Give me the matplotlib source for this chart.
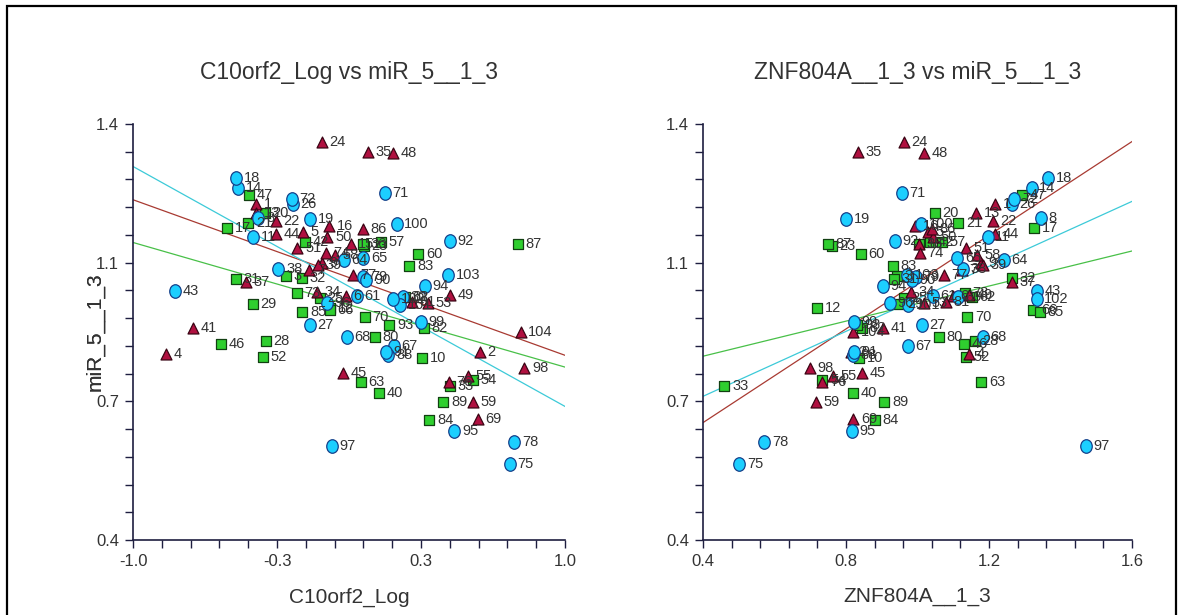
import matplotlib
matplotlib.use('Agg')
import matplotlib.pyplot as plt
import numpy as np
from matplotlib.markers import MarkerStyle
from matplotlib.transforms import Affine2D
from matplotlib.patches import Rectangle

plt.rcParams['font.family'] = ['Liberation Sans', 'DejaVu Sans']

# ---------------- data ----------------
labels = [1, 2, 3, 4, 5, 6, 7, 8, 9, 10, 11, 12, 13, 14, 15, 16, 17, 18, 19, 20,
          21, 22, 23, 24, 25, 26, 27, 28, 29, 30, 31, 32, 33, 34, 35, 36, 37, 38, 39, 40,
          41, 42, 43, 44, 45, 46, 47, 48, 49, 50, 51, 52, 53, 54, 55, 57, 58, 59, 60,
          61, 62, 63, 64, 65, 66, 67, 68, 69, 70, 71, 72, 73, 74, 75, 76, 77, 78, 79, 80,
          81, 82, 83, 84, 85, 86, 87, 88, 89, 90, 91, 92, 93, 94, 95, 96, 97, 98, 99, 100,
          101, 102, 103, 104]
groups = ['T', 'T', 'S', 'T', 'T', 'T', 'T', 'C', 'T', 'S', 'C', 'S', 'T', 'C', 'T', 'T', 'S', 'C', 'C', 'S',
          'S', 'T', 'S', 'T', 'S', 'C', 'C', 'S', 'S', 'C', 'S', 'S', 'S', 'T', 'T', 'S', 'T', 'C', 'T', 'S',
          'T', 'S', 'C', 'T', 'T', 'S', 'S', 'T', 'T', 'T', 'T', 'S', 'T', 'S', 'T', 'S', 'T', 'T', 'S',
          'C', 'S', 'S', 'C', 'C', 'S', 'C', 'C', 'T', 'S', 'C', 'C', 'S', 'T', 'C', 'T', 'T', 'C', 'C', 'S',
          'T', 'S', 'S', 'S', 'S', 'T', 'S', 'C', 'S', 'C', 'C', 'C', 'S', 'C', 'C', 'C', 'C', 'T', 'C', 'C',
          'C', 'C', 'C', 'T']
c10orf2_log = [-0.431, 0.606, -0.292, -0.849, -0.212, -0.014, -0.184, -0.420, -0.126, 0.339,
               -0.443, -0.088, -0.431, -0.512, 0.008, -0.091, -0.566, -0.523, -0.181, -0.389,
               -0.466, -0.338, 0.069, -0.126, -0.134, -0.259, -0.181, -0.386, -0.446, 0.251,
               -0.523, -0.219, 0.468, -0.150, 0.087, 0.063, -0.477, -0.327, -0.144, 0.140,
               -0.721, -0.204, -0.806, -0.338, -0.029, -0.594, -0.462, 0.202, 0.468, -0.100,
               -0.239, -0.397, 0.367, 0.575, 0.550, 0.147, -0.065, 0.573, 0.321,
               0.036, 0.259, 0.054, -0.023, 0.066, -0.088, 0.208, -0.011, 0.596, 0.074,
               0.167, -0.265, -0.242, -0.106, 0.745, 0.463, 0.017, 0.765, 0.066, 0.120,
               0.290, 0.347, 0.279, 0.372, -0.216, 0.063, 0.781, 0.182, 0.437, 0.080,
               0.171, 0.468, 0.187, 0.352, 0.488, -0.103, -0.080, 0.812, 0.332, 0.221,
               0.236, 0.205, 0.460, 0.795]
znf804a = [1.217, 0.814, 0.942, 1.145, 1.029, 1.098, 1.124, 1.345, 1.177, 0.837,
           1.196, 0.720, 1.163, 1.319, 1.005, 0.993, 1.327, 1.366, 0.800, 1.049,
           1.114, 1.210, 0.760, 0.962, 0.962, 1.264, 1.012, 1.161, 0.949, 1.114,
           0.935, 1.263, 0.460, 0.981, 0.833, 1.004, 1.263, 1.128, 1.184, 0.820,
           0.903, 1.035, 1.335, 1.217, 0.844, 1.131, 1.291, 1.019, 1.145, 1.043,
           1.135, 1.136, 1.019, 0.734, 0.764, 1.068, 1.166, 0.715, 0.841,
           1.043, 1.152, 1.178, 1.242, 1.111, 1.324, 0.973, 1.182, 0.820, 1.139,
           0.956, 1.271, 1.133, 1.007, 0.502, 0.734, 1.074, 0.571, 0.996, 1.060,
           1.080, 0.844, 0.932, 0.881, 1.343, 1.040, 0.749, 0.820, 0.907, 0.984,
           0.822, 0.936, 0.831, 0.904, 0.816, 0.923, 1.471, 0.699, 0.823, 1.011,
           0.973, 1.333, 0.970, 0.819]
mir5 = [1.208, 0.853, 1.035, 0.846, 1.141, 0.987, 1.049, 1.173, 1.067, 0.837,
        1.128, 0.957, 1.187, 1.245, 1.112, 1.155, 1.149, 1.269, 1.171, 1.187,
        1.161, 1.167, 1.107, 1.357, 0.981, 1.208, 0.917, 0.878, 0.967, 0.985,
        1.027, 1.029, 0.770, 0.997, 1.332, 1.112, 1.020, 1.051, 1.061, 0.753,
        0.909, 1.117, 0.999, 1.136, 0.802, 0.871, 1.229, 1.330, 0.989, 1.129,
        1.101, 0.841, 0.970, 0.785, 0.794, 1.117, 1.085, 0.732, 1.087,
        0.987, 0.984, 0.779, 1.073, 1.077, 0.953, 0.866, 0.887, 0.691, 0.935,
        1.235, 1.220, 0.993, 1.089, 0.582, 0.781, 1.037, 0.636, 1.033, 0.887,
        0.973, 0.910, 1.059, 0.688, 0.947, 1.147, 1.112, 0.845, 0.731, 1.026,
        0.852, 1.119, 0.917, 1.011, 0.663, 0.969, 0.627, 0.813, 0.925, 1.160,
        0.965, 0.979, 1.037, 0.901]

x_range_left = (-1.0, 1.0)
x_range_right = (0.4, 1.6)
y_range = (0.4, 1.4)
left_xticklabels = ['-1.0', '-0.3', '0.3', '1.0']
right_xticklabels = ['0.4', '0.8', '1.2', '1.6']
y_ticklabels = ['0.4', '0.7', '1.1', '1.4']
titles = ['C10orf2_Log vs miR_5__1_3', 'ZNF804A__1_3 vs miR_5__1_3']
xlabels = ['C10orf2_Log', 'ZNF804A__1_3']
ylabel = 'miR_5__1_3'

# ---------------- styles ----------------
styles = {
    'T': dict(marker=MarkerStyle('^'), face='#b01040', edge='#3a0514', size=62, line='#a83a32'),
    'S': dict(marker=MarkerStyle('s'), face='#2fcf2f', edge='#124012', size=48, line='#48c048'),
    'C': dict(marker=MarkerStyle('o', transform=Affine2D().scale(0.85, 1.0)),
              face='#1ccfff', edge='#15408a', size=95, line='#3ccad8'),
}
spine_col = '#1e1e40'
text_col = '#333333'

W, H = 1183, 615
fig = plt.figure(figsize=(W / 100, H / 100), dpi=100)
fig.patch.set_facecolor('white')

axes_px = [(133, 565), (703, 1132)]
top_px, bot_px = 124, 540

xs_all = [np.array(c10orf2_log), np.array(znf804a)]
ys = np.array(mir5)
grp = np.array(groups)
labs = np.array(labels)


def tick_setup(ax, lo, hi, ticklabels, axis):
    pos = np.linspace(lo, hi, 16)
    txt = [''] * 16
    for i, t in zip(range(0, 16, 5), ticklabels):
        txt[i] = t
    if axis == 'x':
        ax.set_xticks(pos)
        ax.set_xticklabels(txt)
    else:
        ax.set_yticks(pos)
        ax.set_yticklabels(txt)


for k in range(2):
    x0, x1 = axes_px[k]
    ax = fig.add_axes([x0 / W, 1 - bot_px / H, (x1 - x0) / W, (bot_px - top_px) / H])
    xr = x_range_left if k == 0 else x_range_right
    ax.set_xlim(*xr)
    ax.set_ylim(*y_range)
    for s in ['top', 'right']:
        ax.spines[s].set_visible(False)
    for s in ['left', 'bottom']:
        ax.spines[s].set_color(spine_col)
        ax.spines[s].set_linewidth(1.2)
    tick_setup(ax, xr[0], xr[1], left_xticklabels if k == 0 else right_xticklabels, 'x')
    tick_setup(ax, y_range[0], y_range[1], y_ticklabels, 'y')
    ax.tick_params(direction='out', length=6, width=1, color=spine_col,
                   labelsize=12, labelcolor=text_col, pad=4)

    xv = xs_all[k]
    # regression lines per group
    for g in ['T', 'C', 'S']:
        m = grp == g
        slope, icpt = np.polyfit(xv[m], ys[m], 1)
        ax.axline((0, icpt), slope=slope, color=styles[g]['line'], lw=0.9, zorder=1)

    for g in ['S', 'T', 'C']:
        m = grp == g
        st = styles[g]
        ax.scatter(xv[m], ys[m], marker=st['marker'], s=st['size'], c=st['face'],
                   edgecolors=st['edge'], linewidths=0.9, zorder=3)
    for xx, yy, lb in zip(xv, ys, labs):
        ax.annotate(str(lb), (xx, yy), xytext=(5.5, 0), textcoords='offset points',
                    ha='left', va='center', fontsize=10.5, color=text_col, zorder=4,
                    annotation_clip=False)

    ax.set_xlabel(xlabels[k], fontsize=15, color=text_col, va='center')
    ax.xaxis.set_label_coords(0.5, -(597 - bot_px) / (bot_px - top_px))
    ax.set_ylabel(ylabel, fontsize=15, color=text_col, va='center')
    ax.yaxis.set_label_coords(-(x0 - 95) / (x1 - x0), 0.5)
    fig.text((x0 + x1) / 2 / W, 1 - 73 / H, titles[k], ha='center', va='center',
             fontsize=16.5, color=text_col)

fig.add_artist(Rectangle((7 / W, -0.02), (1176 - 7) / W, 1.02 - 6 / H,
                         transform=fig.transFigure, fill=False, ec='black', lw=1.6))

fig.savefig('out.png', dpi=100)
